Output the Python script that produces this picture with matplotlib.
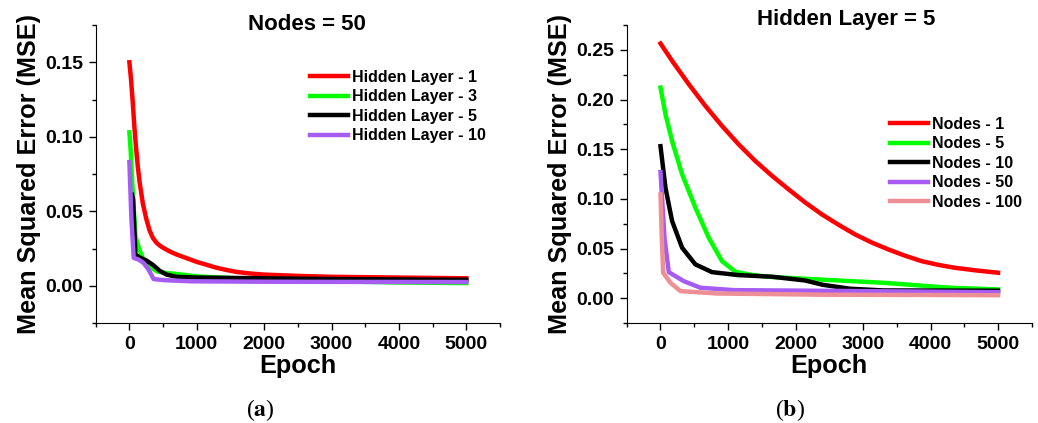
import matplotlib
matplotlib.use("Agg")
import matplotlib.pyplot as plt
from matplotlib.ticker import MultipleLocator

plt.rcParams['font.family'] = ['Liberation Sans', 'DejaVu Sans']
plt.rcParams['font.weight'] = 'bold'
plt.rcParams['mathtext.fontset'] = 'stix'

# (a) Nodes = 50, varying hidden layers
hl1_x = [0, 25, 50, 75, 100, 125, 150, 200, 250, 300, 350, 400, 450, 500, 600, 700, 850, 1000, 1150, 1300,
         1450, 1600, 1800, 2000, 2500, 3000, 4000, 5000]
hl1_y = [0.150, 0.138, 0.123, 0.106, 0.092, 0.080, 0.070, 0.055, 0.045, 0.037, 0.032, 0.029, 0.027, 0.0255,
         0.023, 0.021, 0.0185, 0.016, 0.014, 0.012, 0.0105, 0.0092, 0.0082, 0.0075, 0.0066, 0.006, 0.0055,
         0.005]
hl3_x = [0, 20, 40, 90, 150, 210, 300, 410, 550, 700, 1000, 2000, 3000, 4000, 5000]
hl3_y = [0.103, 0.090, 0.071, 0.033, 0.024, 0.0175, 0.013, 0.0096, 0.0085, 0.0079, 0.0063, 0.004, 0.003,
         0.0022, 0.0018]
hl5_x = [40, 55, 90, 150, 250, 350, 450, 550, 700, 1000, 2000, 3000, 5000]
hl5_y = [0.061, 0.058, 0.021, 0.019, 0.017, 0.014, 0.010, 0.0075, 0.006, 0.0055, 0.005, 0.0045, 0.004]
hl10_x = [0, 30, 64, 140, 211, 285, 359, 500, 900, 2000, 3000, 5000]
hl10_y = [0.083, 0.045, 0.0187, 0.0175, 0.0153, 0.0108, 0.0045, 0.0038, 0.003, 0.0027, 0.0026, 0.0025]

# (b) Hidden layer = 5, varying nodes
n1_x = [0, 172, 419, 665, 911, 1157, 1404, 1650, 1896, 2140, 2389, 2640, 2882, 3130, 3374, 3620, 3867, 4110,
        4360, 4680, 5000]
n1_y = [0.2564, 0.2389, 0.2154, 0.1935, 0.1734, 0.1549, 0.1381, 0.1233, 0.1096, 0.0965, 0.0844, 0.0738,
        0.0642, 0.0560, 0.0491, 0.0428, 0.0373, 0.0336, 0.0306, 0.0279, 0.0256]
n5_x = [0, 74, 172, 320, 517, 714, 911, 1108, 1305, 1576, 2315, 3300, 4285, 5000]
n5_y = [0.212, 0.185, 0.158, 0.1247, 0.0911, 0.0609, 0.0373, 0.0266, 0.0239, 0.0216, 0.0189, 0.0155,
        0.0105, 0.0088]
n10_x = [0, 74, 172, 320, 517, 764, 1157, 1650, 2143, 2400, 2808, 3300, 5000]
n10_y = [0.153, 0.111, 0.0776, 0.0508, 0.034, 0.0262, 0.0232, 0.0216, 0.0178, 0.0135, 0.0095, 0.0078,
         0.0075]
n50_x = [0, 60, 123, 345, 591, 1084, 2808, 5000]
n50_y = [0.127, 0.060, 0.0262, 0.0171, 0.0105, 0.0081, 0.0072, 0.006]
n100_x = [0, 20, 39, 148, 296, 837, 2364, 5000]
n100_y = [0.1045, 0.060, 0.0256, 0.0155, 0.0071, 0.0047, 0.0035, 0.003]

red = '#ff0000'
green = '#00ff00'
black = '#000000'
purple = '#a65cf2'
pink = '#ee8f96'

fig = plt.figure(figsize=(10.38, 4.23), dpi=100)
ax1 = fig.add_axes([0.0922, 0.2364, 0.3895, 0.7045])
ax2 = fig.add_axes([0.6038, 0.2364, 0.3902, 0.7045])

lw = 3.2
ax1.plot(hl1_x, hl1_y, color=red, lw=lw, label='Hidden Layer - 1')
ax1.plot(hl3_x, hl3_y, color=green, lw=lw, label='Hidden Layer - 3')
ax1.plot(hl5_x, hl5_y, color=black, lw=lw, label='Hidden Layer - 5')
ax1.plot(hl10_x, hl10_y, color=purple, lw=lw, label='Hidden Layer - 10')

ax2.plot(n1_x, n1_y, color=red, lw=lw, label='Nodes - 1')
ax2.plot(n5_x, n5_y, color=green, lw=lw, label='Nodes - 5')
ax2.plot(n10_x, n10_y, color=black, lw=lw, label='Nodes - 10')
ax2.plot(n50_x, n50_y, color=purple, lw=lw, label='Nodes - 50')
ax2.plot(n100_x, n100_y, color=pink, lw=lw, label='Nodes - 100')

ax1.set_ylim(-0.025, 0.175)
ax2.set_ylim(-0.025, 0.275)

for ax in (ax1, ax2):
    ax.set_xlim(-500, 5500)
    ax.xaxis.set_major_locator(MultipleLocator(1000))
    ax.xaxis.set_minor_locator(MultipleLocator(500))
    ax.yaxis.set_major_locator(MultipleLocator(0.05))
    ax.yaxis.set_minor_locator(MultipleLocator(0.025))
    ax.yaxis.set_major_formatter(plt.FormatStrFormatter('%.2f'))
    ax.spines['top'].set_visible(False)
    ax.spines['right'].set_visible(False)
    ax.tick_params(which='major', direction='out', length=5, width=1, labelsize=14, pad=4)
    ax.tick_params(which='minor', direction='out', length=3, width=1)
    ax.set_xlabel('Epoch', fontsize=18.2, fontweight='bold', labelpad=1)
    ax.set_ylabel('Mean Squared Error (MSE)', fontsize=18.2, fontweight='bold', labelpad=3)

ax1.legend(loc='upper left', bbox_to_anchor=(0.53, 0.85), frameon=False, borderpad=0, borderaxespad=0,
           handlelength=2.4, handletextpad=0.2, labelspacing=0.28, prop={'size': 11.5, 'weight': 'bold'})
ax2.legend(loc='upper left', bbox_to_anchor=(0.65, 0.692), frameon=False, borderpad=0, borderaxespad=0,
           handlelength=2.4, handletextpad=0.2, labelspacing=0.28, prop={'size': 11.5, 'weight': 'bold'})

fig.text(0.2958, 0.943, 'Nodes = 50', ha='center', va='center', fontsize=16, fontweight='bold')
fig.text(0.8148, 0.955, 'Hidden Layer = 5', ha='center', va='center', fontsize=16, fontweight='bold')

fig.text(0.2505, 0.031, r'($\mathbf{a}$)', ha='center', va='center', fontsize=17,
         family='Liberation Serif', fontweight='normal')
fig.text(0.761, 0.031, r'($\mathbf{b}$)', ha='center', va='center', fontsize=17,
         family='Liberation Serif', fontweight='normal')

fig.savefig('out.png', dpi=100)
